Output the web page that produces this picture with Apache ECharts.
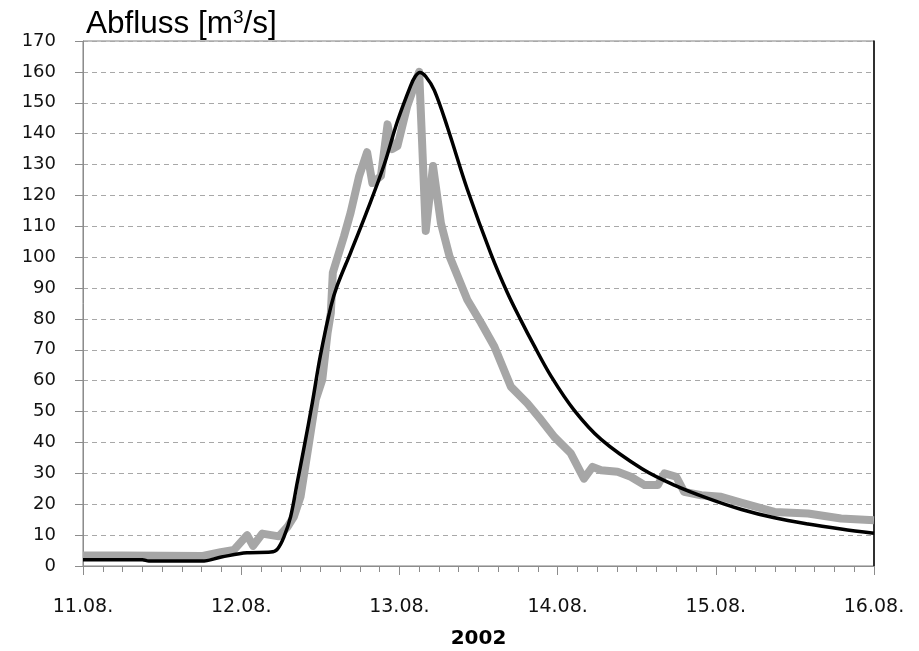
<!DOCTYPE html>
<html>
<head>
<meta charset="utf-8">
<script src="https://cdn.jsdelivr.net/npm/echarts/dist/echarts.min.js"></script>
<style>
  html, body { margin: 0; padding: 0; background: #fff; }
  #chart { width: 919px; height: 651px; }
</style>
</head>
<body>
<div id="chart"></div>
<script>
// Hours since 11.08.2002 00:00
const dayLabels = ['11.08.', '12.08.', '13.08.', '14.08.', '15.08.', '16.08.'];
const yearLabel = '2002';

// Observed discharge (grey, thick)
const obsHours = [0, 6, 12, 18, 20.9, 22.9, 24.9, 25.8, 27.2, 29.7, 31.0, 32.0, 33.0, 34.3, 35.3, 36.3, 37.1, 37.6, 37.9, 39.6, 40.6, 41.9, 43.1, 43.9, 45.2, 46.2, 46.9, 47.7, 49.2, 51.0, 52.0, 53.1, 54.3, 55.6, 58.3, 60.4, 62.4, 64.9, 67.4, 69.5, 71.5, 74.0, 76.0, 77.3, 78.6, 81.1, 83.1, 85.2, 87.2, 88.2, 90.0, 91.2, 93.8, 96.8, 99.8, 104.9, 110, 115, 120];
const obsValues = [3.4, 3.4, 3.3, 3.2, 4.5, 5.2, 10, 6.5, 10.5, 9.6, 12.6, 16, 22.4, 40, 53.8, 60.3, 75.4, 82, 95, 106.8, 114.4, 126.3, 134, 124, 126.3, 143, 135, 136, 149, 160, 108.5, 129.5, 111, 100.3, 86.2, 78.7, 71.1, 58.1, 52.7, 47.3, 41.8, 36.5, 28.3, 32.1, 31.0, 30.5, 28.9, 26.2, 26.2, 30, 28.9, 24, 22.9, 22.4, 20.5, 17.5, 17, 15.4, 14.8];

// Simulated discharge (black, thin)
const simHours = [0, 9, 10, 18, 21, 24.9, 28.5, 29.5, 30.5, 31.5, 32.5, 33.5, 34.8, 36.0, 37.6, 38.6, 40.6, 43.1, 45.7, 47.7, 49.7, 50.4, 51.1, 52.0, 53.3, 55.3, 58.3, 61.9, 64.4, 66.4, 68.4, 71.0, 74.5, 78.6, 84.8, 89.7, 94.8, 99.9, 104.9, 110, 115, 120];
const simValues = [2, 2, 1.6, 1.6, 2.9, 4.3, 4.5, 5.5, 9.5, 16, 27, 38, 53, 68, 84, 91, 101.5, 115, 130, 144, 155.5, 158.5, 159.8, 158.5, 154, 142, 122, 101, 88.4, 79.7, 71.5, 61.5, 50.5, 41, 31.5, 26.2, 21.9, 18.3, 15.6, 13.6, 12, 10.6];

const zip = (xs, ys) => xs.map((x, i) => [x, ys[i]]);

const chart = echarts.init(document.getElementById('chart'), null, { renderer: 'canvas' });
const gridColor = '#a8a8a8';
const axisColor = '#8c8c8c';
const labelFont = 'DejaVu Sans';

chart.setOption({
  animation: false,
  backgroundColor: '#fff',
  title: {
    text: '{a|Abfluss [m}{s|3}{a|/s]}',
    left: 86,
    top: 8,
    padding: 0,
    textStyle: {
      fontWeight: 'normal',
      rich: {
        a: { fontSize: 31.5, fontFamily: 'Liberation Sans', fontWeight: 'normal', color: '#000', lineHeight: 33 },
        s: { fontSize: 19, fontFamily: 'Liberation Sans', fontWeight: 'normal', color: '#000', lineHeight: 22, verticalAlign: 'top' }
      }
    }
  },
  grid: {
    left: 83, right: 45, top: 41, bottom: 85,
    containLabel: false,
    outerBoundsMode: 'none',
    show: true, borderColor: '#808080', borderWidth: 1
  },
  xAxis: {
    type: 'value',
    min: 0, max: 120, interval: 24,
    name: yearLabel,
    nameLocation: 'middle',
    nameGap: 63,
    nameTextStyle: { fontFamily: labelFont, fontWeight: 'bold', fontSize: 20, color: '#000' },
    axisLine: { show: true, lineStyle: { color: axisColor, width: 1 } },
    axisTick: { show: true, length: 9, inside: false, lineStyle: { color: axisColor } },
    minorTick: { show: true, splitNumber: 8, length: 6, lineStyle: { color: axisColor } },
    splitLine: { show: false },
    axisLabel: {
      margin: 32,
      fontFamily: labelFont, fontSize: 19, color: '#111',
      formatter: (v) => dayLabels[Math.round(v / 24)] || ''
    }
  },
  yAxis: [{
    type: 'value',
    min: 0, max: 170, interval: 10,
    axisLine: { show: true, lineStyle: { color: axisColor, width: 1 } },
    axisTick: { show: true, length: 8, lineStyle: { color: axisColor } },
    splitLine: { show: true, lineStyle: { color: gridColor, type: [5, 4], width: 1 } },
    axisLabel: { margin: 27, fontFamily: labelFont, fontSize: 18, color: '#111' }
  }, {
    type: 'value',
    position: 'right',
    min: 0, max: 170,
    axisLine: { show: true, lineStyle: { color: '#000', width: 1.5 } },
    axisTick: { show: false },
    axisLabel: { show: false },
    splitLine: { show: false }
  }],
  series: [{
    type: 'line',
    name: 'Beobachtet',
    data: zip(obsHours, obsValues),
    showSymbol: false,
    symbol: 'none',
    lineStyle: { color: '#a6a6a6', width: 8, cap: 'butt', join: 'round' },
    z: 2
  }, {
    type: 'line',
    name: 'Simuliert',
    data: zip(simHours, simValues),
    showSymbol: false,
    symbol: 'none',
    smooth: 0.35,
    lineStyle: { color: '#000', width: 3.5, join: 'round' },
    z: 3
  }]
});
</script>
</body>
</html>
